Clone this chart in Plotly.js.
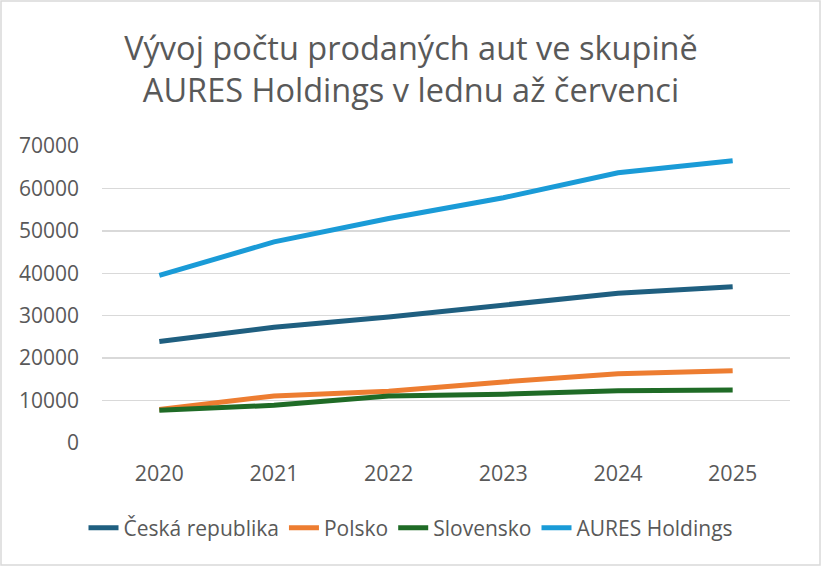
<!DOCTYPE html>
<html>
<head>
<meta charset="utf-8">
<script src="https://cdn.plot.ly/plotly-3.0.1.min.js"></script>
<style>
html,body{margin:0;padding:0;background:#fff;}
#chart{width:822px;height:567px;}
</style>
</head>
<body>
<div id="chart"></div>
<script>
const years = ['2020','2021','2022','2023','2024','2025'];
const seriesNames = ['Česká republika','Polsko','Slovensko','AURES Holdings'];
const cesko = [23900, 27300, 29700, 32400, 35300, 36800];
const polsko = [7900, 11100, 12200, 14400, 16300, 17000];
const slovensko = [7700, 8900, 11100, 11500, 12300, 12500];
const aures = [39500, 47400, 52900, 57800, 63700, 66500];
const yTicks = [0,10000,20000,30000,40000,50000,60000,70000];
const colors = ['#1F5F80','#ED7D31','#1F6B26','#1A9BD7'];

const allValues = [cesko, polsko, slovensko, aures];
const FONT = '"Open Sans", Lato, sans-serif';

const traces = allValues.map((v,i)=>({
  x: years, y: v, name: seriesNames[i], type:'scatter', mode:'lines',
  line:{color:colors[i], width:5, shape:'linear'}
}));

const layout = {
  width:822, height:567,
  margin:{l:102, r:32, t:146, b:124},
  paper_bgcolor:'#fff', plot_bgcolor:'#fff',
  font:{family:FONT, color:'#595959', size:20},
  title:{text:'Vývoj počtu prodaných aut ve skupině<br>AURES Holdings v lednu až červenci',
    font:{family:FONT, size:32.5, color:'#595959'}, x:0.5, xref:'container', xanchor:'center',
    y:1-60/567, yref:'container', yanchor:'middle'},
  xaxis:{type:'category', range:[-0.5,5.5], showgrid:false, zeroline:false, showline:false,
    ticks:'', tickfont:{size:21.5, color:'#595959', family:FONT}, ticklabelstandoff:15},
  yaxis:{range:[0,70000], tickvals:yTicks, ticktext:yTicks.map(String), showgrid:true,
    gridcolor:'#D9D9D9', gridwidth:1.5, zeroline:false, showline:false, ticks:'',
    tickfont:{size:21, color:'#595959', family:FONT}, ticklabelstandoff:22},
  showlegend:true,
  legend:{orientation:'h', x:0.5, xref:'container', xanchor:'center', y:1-528/567, yref:'container', yanchor:'middle',
    font:{size:21, color:'#595959', family:FONT}, itemwidth:30, tracegroupgap:0},
  shapes:[{type:'rect', xref:'paper', yref:'paper', x0:-101/688, x1:1+30/688, y0:-122/297, y1:1+145/297,
    line:{color:'#D9D9D9', width:1.5}, fillcolor:'rgba(0,0,0,0)', layer:'below'}]
};

Plotly.newPlot('chart', traces, layout, {displayModeBar:false, staticPlot:true});
</script>
</body>
</html>
